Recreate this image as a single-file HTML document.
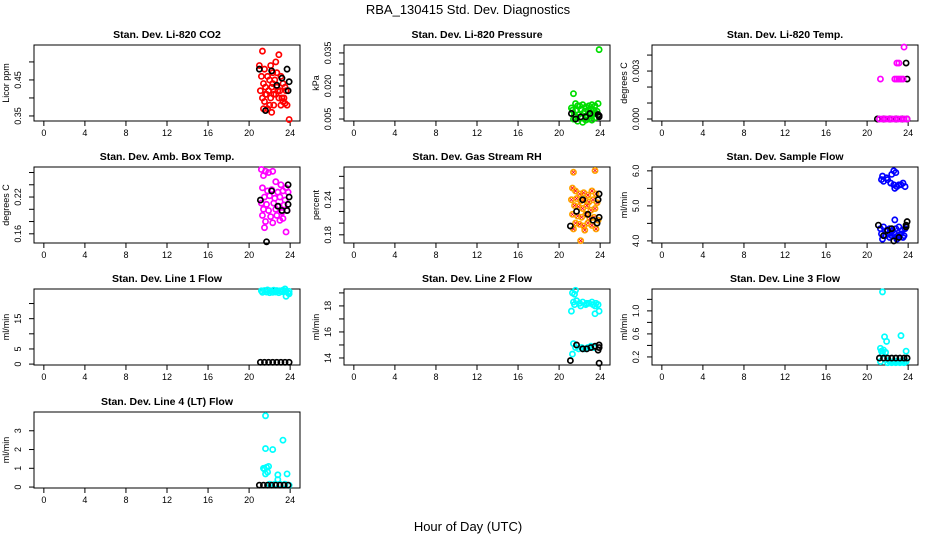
<!DOCTYPE html>
<html><head><meta charset="utf-8">
<style>
html,body{margin:0;padding:0;background:#fff;}
svg{display:block;font-family:"Liberation Sans",Arial,sans-serif;}
</style></head>
<body>
<svg id="chart" width="936" height="540" viewBox="0 0 936 540" xmlns="http://www.w3.org/2000/svg">
<text x="468" y="14" text-anchor="middle" font-size="13">RBA_130415  Std. Dev. Diagnostics</text>
<text x="468" y="531" text-anchor="middle" font-size="13">Hour of Day (UTC)</text>
</svg>
<script>
const xTicks = [0,4,8,12,16,20,24];

// Panel 1: CO2
const co2RedX = [21.3,22.9,21.0,22.6,21.5,22.1,22.3,21.2,21.8,22.7,23.1,21.4,22.0,22.5,23.3,21.6,22.2,22.8,23.5,21.1,21.9,22.4,23.0,23.6,21.7,22.6,23.2,21.3,22.1,22.9,23.4,21.5,22.0,23.1,21.8,22.4,23.7,21.4,22.2,23.9,21.9,23.3,22.3,21.6,22.7,23.5];
const co2RedY = [0.53,0.52,0.49,0.50,0.48,0.49,0.47,0.46,0.46,0.47,0.46,0.44,0.45,0.45,0.44,0.43,0.43,0.42,0.43,0.42,0.42,0.41,0.42,0.42,0.41,0.41,0.40,0.40,0.40,0.40,0.40,0.39,0.38,0.38,0.37,0.38,0.38,0.37,0.36,0.34,0.42,0.39,0.44,0.41,0.43,0.385];
const co2BlkX = [21.0,22.2,23.7,23.2,23.9,22.7,23.8,21.6];
const co2BlkY = [0.48,0.475,0.48,0.455,0.445,0.435,0.42,0.365];

// Panel 2: Pressure
const presGrnX = [21.4,21.6,21.2,21.8,22.0,22.3,22.6,22.9,23.2,23.5,23.8,21.3,21.7,22.1,22.5,22.8,23.1,23.4,23.7,21.5,21.9,22.4,22.7,23.0,23.3,23.6,21.4,22.2,22.9,23.5,21.8,22.6,23.9,21.6,22.3,23.2];
const presGrnY = [0.0165,0.012,0.010,0.011,0.011,0.0115,0.0105,0.011,0.0115,0.011,0.012,0.009,0.009,0.0095,0.0085,0.009,0.0095,0.009,0.0085,0.007,0.007,0.0075,0.0065,0.007,0.007,0.0075,0.005,0.0055,0.005,0.0055,0.004,0.0045,0.0365,0.006,0.0035,0.0045];
const presBlkX = [21.2,21.6,22.1,22.6,23.0,23.8,23.9,23.9];
const presBlkY = [0.0075,0.005,0.006,0.006,0.0075,0.007,0.0065,0.006];

// Panel 3: Li-820 Temp
const tempMagX = [21.2,21.5,21.8,22.1,22.4,22.7,23.0,23.3,23.6,23.9,21.3,22.7,22.9,23.1,23.3,23.5,22.9,23.1,23.6];
const tempMagY = [0,0,0,0,0,0,0,0,0,0,0.0025,0.0025,0.0025,0.0025,0.0025,0.0025,0.0035,0.0035,0.0045];
const tempBlkX = [21.0,21.6,22.2,22.8,23.4,23.9,23.9,23.8];
const tempBlkY = [0,0,0,0,0,0,0.0025,0.0035];

// Panel 4: Amb box temp
const ambMagX = [21.2,21.6,21.9,22.3,21.4,22.6,23.1,23.6,21.3,21.8,22.2,22.8,23.3,23.8,21.5,22.0,22.5,23.0,23.5,21.2,21.7,22.4,22.9,23.4,21.4,21.9,22.6,23.2,23.7,21.3,22.1,22.7,23.3,21.6,22.3,23.0,21.5,23.6];
const ambMagY = [0.265,0.262,0.26,0.262,0.255,0.245,0.24,0.235,0.235,0.23,0.232,0.228,0.23,0.228,0.22,0.222,0.218,0.22,0.215,0.21,0.208,0.21,0.205,0.207,0.2,0.198,0.2,0.195,0.198,0.19,0.188,0.19,0.185,0.18,0.178,0.182,0.17,0.163];
const ambBlkX = [21.1,22.2,22.8,23.2,23.8,23.9,23.8,23.7,21.7];
const ambBlkY = [0.215,0.23,0.205,0.198,0.24,0.22,0.208,0.198,0.147];

// Panel 5: Gas stream RH
const rhOrgX = [21.4,23.5,21.3,21.6,22.0,22.4,22.8,23.2,23.6,21.2,21.7,22.1,22.5,22.9,23.3,23.7,21.5,21.9,22.3,22.7,23.1,23.5,21.3,21.8,22.2,22.6,23.0,23.4,23.8,21.6,22.0,22.4,22.8,23.2,21.4,22.5,23.6,22.1];
const rhOrgY = [0.287,0.29,0.26,0.255,0.25,0.252,0.248,0.255,0.25,0.24,0.242,0.238,0.24,0.236,0.24,0.235,0.23,0.228,0.225,0.23,0.222,0.225,0.215,0.212,0.21,0.215,0.208,0.21,0.205,0.2,0.198,0.195,0.2,0.196,0.19,0.188,0.19,0.17];
const rhBlkX = [21.1,21.7,22.3,22.8,23.3,23.9,23.8,23.9,23.7];
const rhBlkY = [0.195,0.22,0.24,0.215,0.205,0.25,0.24,0.21,0.2];

// Panel 6: Sample flow
const sfBluX = [21.4,21.6,21.9,22.3,22.6,22.9,23.3,23.7,21.5,22.0,22.4,22.8,23.1,23.5,22.6,22.7,21.3,21.6,21.9,22.2,22.5,22.8,23.1,23.4,23.7,21.4,21.8,22.1,22.4,22.7,23.0,23.3,23.6,21.5,22.2,22.9,23.5,22.7];
const sfBluY = [5.75,5.7,5.8,5.65,5.6,5.55,5.6,5.55,5.85,5.75,5.9,5.95,5.6,5.65,6.0,5.5,4.35,4.4,4.3,4.35,4.3,4.35,4.4,4.3,4.35,4.2,4.15,4.2,4.15,4.2,4.15,4.2,4.15,4.05,4.1,4.05,4.1,4.6];
const sfBlkX = [21.1,21.6,22.0,22.6,23.1,23.8,23.9,23.8,22.4];
const sfBlkY = [4.45,4.15,4.3,4.0,4.1,4.45,4.55,4.4,4.35];

// Panel 7: Line 1 flow
const l1CyaX = [21.2,21.5,21.8,22.1,22.4,22.7,23.0,23.3,23.6,23.9,21.3,21.7,22.0,22.3,22.6,22.9,23.2,23.5,23.8,23.6,23.9];
const l1CyaY = [24.2,24.3,24.5,24.2,24.4,24.3,24.2,24.4,24.1,24.0,23.7,23.8,23.6,23.7,23.8,23.6,23.9,24.8,23.5,22.4,23.2];
const l1BlkX = [21.1,21.5,21.9,22.3,22.7,23.1,23.5,23.9];
const l1BlkY = [0.6,0.6,0.6,0.6,0.6,0.6,0.6,0.6];

// Panel 8: Line 2 flow
const l2CyaX = [21.3,21.6,21.5,21.2,21.4,21.7,22.0,22.3,22.6,22.9,23.2,23.5,23.8,21.5,22.1,22.7,23.3,23.9,23.5,23.6,21.4,21.6,21.9,22.2,22.5,22.8,23.1,23.4,21.3];
const l2CyaY = [19.0,19.2,18.9,17.6,18.3,18.4,18.2,18.3,18.1,18.2,18.3,18.0,18.1,18.1,18.0,18.2,18.1,17.6,17.4,18.2,15.1,14.8,14.7,14.8,14.7,14.8,14.9,14.8,14.3];
const l2BlkX = [21.1,21.7,22.3,22.7,23.1,23.5,23.8,23.9,23.9,23.9];
const l2BlkY = [13.8,15.0,14.7,14.7,14.8,14.9,14.6,14.8,15.0,13.6];

// Panel 9: Line 3 flow
const l3CyaX = [21.5,21.3,21.4,21.6,21.8,22.0,22.2,22.4,22.6,22.8,23.0,23.2,23.4,23.6,23.8,21.5,21.9,23.3,21.7,23.8,21.3,22.1,22.7,23.5];
const l3CyaY = [1.33,0.35,0.3,0.32,0.28,0.1,0.12,0.1,0.11,0.1,0.12,0.1,0.11,0.1,0.12,0.25,0.47,0.57,0.55,0.3,0.12,0.14,0.13,0.14];
const l3BlkX = [21.2,21.6,22.0,22.4,22.8,23.2,23.6,23.9];
const l3BlkY = [0.18,0.18,0.18,0.18,0.18,0.18,0.18,0.18];

// Panel 10: Line 4 (LT) flow
const l4CyaX = [21.6,21.6,22.3,23.3,21.4,21.5,21.7,21.9,21.8,21.6,22.8,22.8,23.7,22.0,22.5,23.0,23.5,23.9];
const l4CyaY = [3.8,2.05,2.0,2.5,1.0,0.95,1.05,1.1,0.8,0.7,0.65,0.4,0.7,0.15,0.15,0.15,0.15,0.1];
const l4BlkX = [21.0,21.4,21.8,22.2,22.6,23.0,23.4,23.8];
const l4BlkY = [0.1,0.1,0.1,0.1,0.1,0.1,0.1,0.1];

const NS = "http://www.w3.org/2000/svg";
const svg = document.getElementById("chart");
function mk(tag, attrs, parent){
  const e = document.createElementNS(NS, tag);
  for (const k in attrs) e.setAttribute(k, attrs[k]);
  (parent||svg).appendChild(e);
  return e;
}

function panel(cfg){
  const L=cfg.left, T=cfg.top, W=266, H=76;
  const g = mk("g", {});
  
  
  const xs = v => L + (v + 0.96) / 25.92 * W;
  const ys = v => T + H - (v - cfg.ymin) / (cfg.ymax - cfg.ymin) * H;
  const box = mk("rect", {x:L, y:T, width:W, height:H, fill:"none", stroke:"#000", "stroke-width":1}, g);
  
  
  const t = mk("text", {x:L+W/2, y:T-7, "text-anchor":"middle", "font-size":10.5, "font-weight":"bold"}, g);
  t.textContent = cfg.title;
  
  
  const xa = mk("g", {}, g);
  
  
  xTicks.forEach(v => {
    const x = xs(v);
    mk("line", {x1:x, x2:x, y1:T+H, y2:T+H+5, stroke:"#000"}, xa);
    const lb = mk("text", {x:x, y:T+H+15, "text-anchor":"middle", "font-size":9}, xa);
    lb.textContent = v;
    
    
  });
  const ya = mk("g", {}, g);
  
  
  cfg.yticks.forEach(v => {
    const y = ys(v);
    mk("line", {x1:L-5, x2:L, y1:y, y2:y, stroke:"#000"}, ya);
  });
  cfg.ylabels.forEach((s, i) => {
    const y = ys(cfg.ylabelVals[i]);
    const lb = mk("text", {x:L-13, y:y, "text-anchor":"middle", "font-size":9, transform:`rotate(-90 ${L-13} ${y})`}, ya);
    lb.textContent = s;
    
    
  });
  const yt = mk("text", {x:L-25, y:T+H/2, "text-anchor":"middle", "font-size":9, transform:`rotate(-90 ${L-25} ${T+H/2})`}, g);
  yt.textContent = cfg.ylab;
  
  
  cfg.series.forEach(s => {
    const sg = mk("g", {}, g);
    
    
    s.x.forEach((xv, i) => {
      const cx = xs(xv), cy = ys(s.y[i]);
      const c = mk("circle", {cx:cx, cy:cy, r:2.6, fill:"none", stroke:s.color, "stroke-width":1.7}, sg);
      
      
      if (s.cross) {
        mk("path", {d:`M${cx-1.5} ${cy-1.5}L${cx+1.5} ${cy+1.5}M${cx-1.5} ${cy+1.5}L${cx+1.5} ${cy-1.5}`, stroke:s.cross, "stroke-width":0.8}, sg);
      }
    });
  });
}

const C=[34,344,652], R=[45,167,289,412];
panel({name:"panel-co2", title:"Stan. Dev. Li-820 CO2", left:C[0], top:R[0], ymin:0.336, ymax:0.547, yticks:[0.35,0.40,0.45,0.50], ylabels:["0.35","0.45"], ylabelVals:[0.35,0.45], ylab:"Licor ppm",
  series:[{name:"co2-red-series", x:co2RedX, y:co2RedY, color:"#ff0000"},{name:"co2-black-series", x:co2BlkX, y:co2BlkY, color:"#000"}]});
panel({name:"panel-pressure", title:"Stan. Dev. Li-820 Pressure", left:C[1], top:R[0], ymin:0.0041, ymax:0.0386, yticks:[0.005,0.010,0.015,0.020,0.025,0.030,0.035], ylabels:["0.005","0.020","0.035"], ylabelVals:[0.005,0.020,0.035], ylab:"kPa",
  series:[{name:"pressure-green-series", x:presGrnX, y:presGrnY, color:"#00dd00"},{name:"pressure-black-series", x:presBlkX, y:presBlkY, color:"#000"}]});
panel({name:"panel-li820-temp", title:"Stan. Dev. Li-820 Temp.", left:C[2], top:R[0], ymin:-0.000125, ymax:0.00463, yticks:[0,0.001,0.002,0.003,0.004], ylabels:["0.000","0.003"], ylabelVals:[0,0.003], ylab:"degrees C",
  series:[{name:"temp-black-series", x:tempBlkX, y:tempBlkY, color:"#000"},{name:"temp-magenta-series", x:tempMagX, y:tempMagY, color:"#ff00ff"}]});
panel({name:"panel-amb-box-temp", title:"Stan. Dev. Amb. Box Temp.", left:C[0], top:R[1], ymin:0.145, ymax:0.269, yticks:[0.16,0.18,0.20,0.22,0.24,0.26], ylabels:["0.16","0.22"], ylabelVals:[0.16,0.22], ylab:"degrees C",
  series:[{name:"amb-magenta-series", x:ambMagX, y:ambMagY, color:"#ff00ff"},{name:"amb-black-series", x:ambBlkX, y:ambBlkY, color:"#000"}]});
panel({name:"panel-gas-rh", title:"Stan. Dev. Gas Stream RH", left:C[1], top:R[1], ymin:0.166, ymax:0.296, yticks:[0.18,0.20,0.22,0.24,0.26,0.28], ylabels:["0.18","0.24"], ylabelVals:[0.18,0.24], ylab:"percent",
  series:[{name:"rh-orange-series", x:rhOrgX, y:rhOrgY, color:"#ffa500", cross:"#ff0000"},{name:"rh-black-series", x:rhBlkX, y:rhBlkY, color:"#000"}]});
panel({name:"panel-sample-flow", title:"Stan. Dev. Sample Flow", left:C[2], top:R[1], ymin:3.94, ymax:6.11, yticks:[4.0,4.5,5.0,5.5,6.0], ylabels:["4.0","5.0","6.0"], ylabelVals:[4,5,6], ylab:"ml/min",
  series:[{name:"sample-flow-blue-series", x:sfBluX, y:sfBluY, color:"#0000ff"},{name:"sample-flow-black-series", x:sfBlkX, y:sfBlkY, color:"#000"}]});
panel({name:"panel-line1-flow", title:"Stan. Dev. Line 1 Flow", left:C[0], top:R[2], ymin:-0.3, ymax:24.8, yticks:[0,5,10,15,20], ylabels:["0","5","15"], ylabelVals:[0,5,15], ylab:"ml/min",
  series:[{name:"line1-cyan-series", x:l1CyaX, y:l1CyaY, color:"#00ffff"},{name:"line1-black-series", x:l1BlkX, y:l1BlkY, color:"#000"}]});
panel({name:"panel-line2-flow", title:"Stan. Dev. Line 2 Flow", left:C[1], top:R[2], ymin:13.46, ymax:19.3, yticks:[14,15,16,17,18,19], ylabels:["14","16","18"], ylabelVals:[14,16,18], ylab:"ml/min",
  series:[{name:"line2-cyan-series", x:l2CyaX, y:l2CyaY, color:"#00ffff"},{name:"line2-black-series", x:l2BlkX, y:l2BlkY, color:"#000"}]});
panel({name:"panel-line3-flow", title:"Stan. Dev. Line 3 Flow", left:C[2], top:R[2], ymin:0.06, ymax:1.38, yticks:[0.2,0.4,0.6,0.8,1.0,1.2], ylabels:["0.2","0.6","1.0"], ylabelVals:[0.2,0.6,1.0], ylab:"ml/min",
  series:[{name:"line3-cyan-series", x:l3CyaX, y:l3CyaY, color:"#00ffff"},{name:"line3-black-series", x:l3BlkX, y:l3BlkY, color:"#000"}]});
panel({name:"panel-line4-flow", title:"Stan. Dev. Line 4 (LT) Flow", left:C[0], top:R[3], ymin:-0.05, ymax:4.0, yticks:[0,1,2,3], ylabels:["0","1","2","3"], ylabelVals:[0,1,2,3], ylab:"ml/min",
  series:[{name:"line4-cyan-series", x:l4CyaX, y:l4CyaY, color:"#00ffff"},{name:"line4-black-series", x:l4BlkX, y:l4BlkY, color:"#000"}]});
</script>
</body></html>
